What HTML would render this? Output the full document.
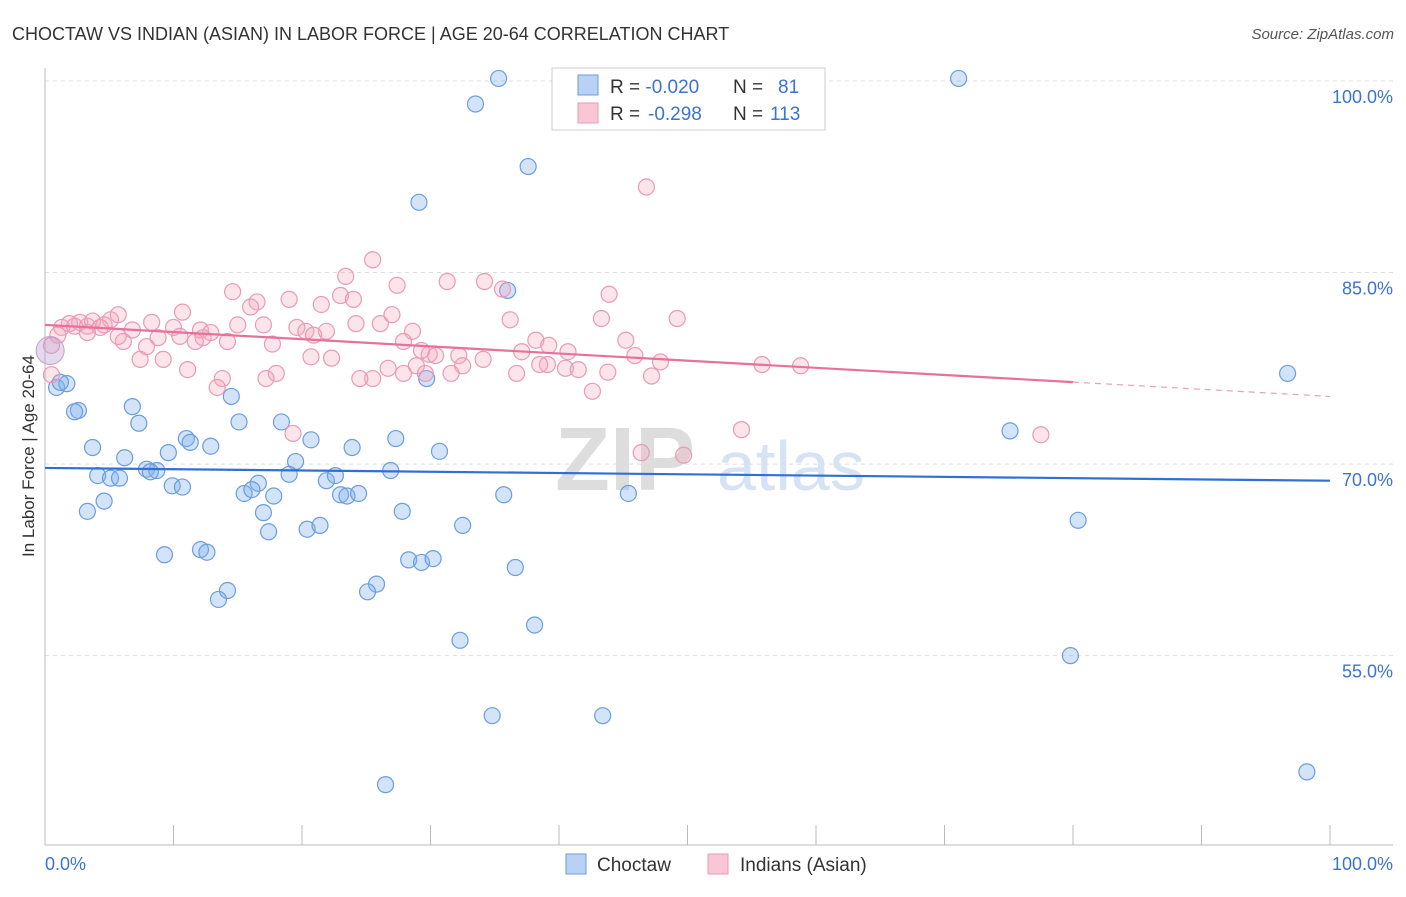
<!DOCTYPE html>
<html><head><meta charset="utf-8"><style>
body{margin:0;background:#fff;font-family:"Liberation Sans",sans-serif}
svg text{font-family:"Liberation Sans",sans-serif}
</style></head><body>
<svg id="c" width="1406" height="892">
<text x="12" y="40" font-size="18" fill="#333">CHOCTAW VS INDIAN (ASIAN) IN LABOR FORCE | AGE 20-64 CORRELATION CHART</text>
<text x="1394" y="39" font-size="15" fill="#555" text-anchor="end" font-style="italic">Source: ZipAtlas.com</text>
<g><text x="555" y="490" font-size="90" fill="#ddd" font-family="Liberation Serif" font-weight="bold">ZIP</text><text x="717" y="490" font-size="70" fill="#d5e3f5">atlas</text></g>
<g id="grid"></g><g id="pts"></g><g id="lines"></g>
<text transform="translate(34,456) rotate(-90)" font-size="17" fill="#333" text-anchor="middle">In Labor Force | Age 20-64</text>
<text x="45" y="870" font-size="18" fill="#3b73d1">0.0%</text>
<text x="1393" y="870" font-size="18" fill="#3b73d1" text-anchor="end">100.0%</text>
<g>
<rect x="552" y="68" width="273" height="62" fill="#fff" stroke="#ccc"/>
<rect x="578" y="75" width="20" height="20" fill="#b9d2f3" stroke="#6a9ee0"/>
<rect x="578" y="103" width="20" height="20" fill="#f9c6d6" stroke="#e99ab5"/>
<text x="610" y="93" font-size="19" fill="#333">R = <tspan fill="#3b73d1">-0.020</tspan><tspan x="733">N = </tspan><tspan fill="#3b73d1" x="778">81</tspan></text>
<text x="610" y="120" font-size="19" fill="#333">R = <tspan fill="#3b73d1" x="648">-0.298</tspan><tspan x="733">N = </tspan><tspan fill="#3b73d1" x="770">113</tspan></text>
</g>
<g>
<rect x="566" y="854" width="20" height="20" fill="#b9d2f3" stroke="#6a9ee0"/>
<text x="597" y="871" font-size="19" fill="#333">Choctaw</text>
<rect x="708" y="854" width="20" height="20" fill="#f9c6d6" stroke="#e99ab5"/>
<text x="740" y="871" font-size="19" fill="#333">Indians (Asian)</text>
</g>
</svg>
<script>
const yTicks=[55,70,85,100];
const yTickLabels=["55.0%","70.0%","85.0%","100.0%"];
const xTicks=[0,10,20,30,40,50,60,70,80,90,100];
const blueX=[35.3,71.1,33.5,37.6,29.1,36.0,96.7,0.9,1.7,1.2,6.8,2.6,2.3,7.3,14.5,15.1,18.4,29.7,75.1,3.7,11.0,12.9,11.3,20.7,23.9,27.3,30.7,6.2,9.6,19.5,26.9,4.1,5.1,5.8,7.9,8.7,8.2,9.9,10.7,16.6,15.5,16.1,19.0,17.8,21.9,22.6,23.0,23.5,24.4,35.7,45.4,4.6,3.3,17.0,27.8,17.4,20.4,21.4,32.5,80.4,9.3,12.1,12.6,28.3,29.3,30.2,36.6,25.8,25.1,14.2,13.5,38.1,32.3,79.8,34.8,43.4,26.5,98.2];
const blueY=[100.2,100.2,98.2,93.3,90.5,83.6,77.1,76.0,76.3,76.4,74.5,74.2,74.1,73.2,75.3,73.3,73.3,76.7,72.6,71.3,72.0,71.4,71.7,71.9,71.3,72.0,71.0,70.5,70.9,70.2,69.5,69.1,68.9,68.9,69.6,69.5,69.4,68.3,68.2,68.5,67.7,68.0,69.2,67.5,68.7,69.1,67.6,67.5,67.7,67.6,67.7,67.1,66.3,66.2,66.3,64.7,64.9,65.2,65.2,65.6,62.9,63.3,63.1,62.5,62.3,62.6,61.9,60.6,60.0,60.1,59.4,57.4,56.2,55.0,50.3,50.3,44.9,45.9];
const pinkX=[46.8,25.5,23.4,31.3,34.2,27.4,14.6,43.9,16.5,19.0,16.0,21.5,23.0,24.0,35.6,10.7,5.7,5.1,1.9,2.7,3.7,4.6,1.3,2.3,3.3,4.3,6.8,8.3,10.0,12.1,12.9,15.0,17.0,19.6,20.3,21.9,24.2,26.1,27.0,36.2,43.3,49.2,14.2,12.3,11.7,10.5,8.8,7.9,6.1,5.7,3.3,1.0,0.5,17.7,20.9,28.6,27.9,29.9,30.4,29.3,38.2,39.2,40.7,45.2,45.9,47.9,34.1,37.1,39.1,40.5,38.5,32.2,32.5,28.9,26.7,25.5,24.5,27.9,29.6,31.6,36.7,41.5,43.8,47.2,55.8,58.8,7.4,9.2,11.1,20.7,22.3,18.0,17.2,13.8,13.4,42.6,54.2,77.5,19.3,46.4,49.7,0.5];
const pinkY=[91.7,86.0,84.7,84.3,84.3,84.0,83.5,83.3,82.7,82.9,82.3,82.5,83.2,82.9,83.7,81.9,81.7,81.3,81.0,81.1,81.2,80.9,80.7,80.8,80.8,80.7,80.5,81.1,80.7,80.5,80.3,80.9,80.9,80.7,80.4,80.4,81.0,81.0,81.7,81.3,81.4,81.4,79.6,79.9,79.6,80.0,79.9,79.2,79.6,80.0,80.3,80.1,79.3,79.4,80.1,80.4,79.6,78.6,78.5,78.9,79.7,79.3,78.8,79.7,78.5,78.0,78.2,78.8,77.8,77.5,77.8,78.5,77.7,77.7,77.5,76.7,76.7,77.1,77.1,77.1,77.1,77.4,77.2,76.9,77.8,77.7,78.2,78.2,77.4,78.4,78.3,77.1,76.7,76.7,76.0,75.7,72.7,72.3,72.4,70.9,70.7,77.0];
const blueTrend=[69.7,68.7];
const pinkTrend=[80.9,75.3];
const pinkSolidEnd=80;
const NS="http://www.w3.org/2000/svg";
const X=v=>45+v*12.85, Y=v=>81+(100-v)*12.77;
function mk(tag,at,parent){const e=document.createElementNS(NS,tag);for(const k in at)e.setAttribute(k,at[k]);parent.appendChild(e);return e;}
const grid=document.getElementById('grid'),pts=document.getElementById('pts'),lines=document.getElementById('lines');
yTicks.forEach((t,i)=>{
 const l=mk('line',{x1:45,x2:1393,y1:Y(t),y2:Y(t),stroke:'#ddd','stroke-dasharray':'4,4'},grid);
 
 
 const tx=mk('text',{x:1393,y:Y(t)+22,'font-size':18,fill:'#3b73d1','text-anchor':'end'},grid);
 tx.textContent=yTickLabels[i];
 
 
});
const ax=mk('line',{x1:45,x2:45,y1:68,y2:845,stroke:'#bbb'},grid);


const bx=mk('line',{x1:45,x2:1393,y1:845,y2:845,stroke:'#bbb'},grid);


xTicks.forEach(t=>{
 const l=mk('line',{x1:X(t),x2:X(t),y1:825,y2:845,stroke:'#bbb'},grid);
 
 
});
function dots(xs,ys,fill,stroke,name){xs.forEach((x,i)=>{
 const c=mk('circle',{cx:X(x),cy:Y(ys[i]),r:8,fill:fill,stroke:stroke,'stroke-width':1.2},pts);
 
 
});}
dots(blueX,blueY,'rgba(130,175,235,0.35)','#6a9ee0','choctaw-point');
dots(pinkX,pinkY,'rgba(245,165,190,0.3)','#e99ab5','indian-asian-point');
const big=mk('circle',{cx:X(0.4),cy:Y(78.9),r:14,fill:'rgba(190,160,210,0.4)',stroke:'#c7a0c8'},pts);


const bl=mk('line',{x1:X(0),y1:Y(blueTrend[0]),x2:X(100),y2:Y(blueTrend[1]),stroke:'#2f6fd6','stroke-width':2.2},lines);


const pm=pinkTrend[0]+(pinkTrend[1]-pinkTrend[0])*pinkSolidEnd/100;
const pl=mk('line',{x1:X(0),y1:Y(pinkTrend[0]),x2:X(pinkSolidEnd),y2:Y(pm),stroke:'#e8709a','stroke-width':2.2},lines);


const pd=mk('line',{x1:X(pinkSolidEnd),y1:Y(pm),x2:X(100),y2:Y(pinkTrend[1]),stroke:'#e8a0b8','stroke-width':1.2,'stroke-dasharray':'6,5'},lines);


</script>
</body></html>
